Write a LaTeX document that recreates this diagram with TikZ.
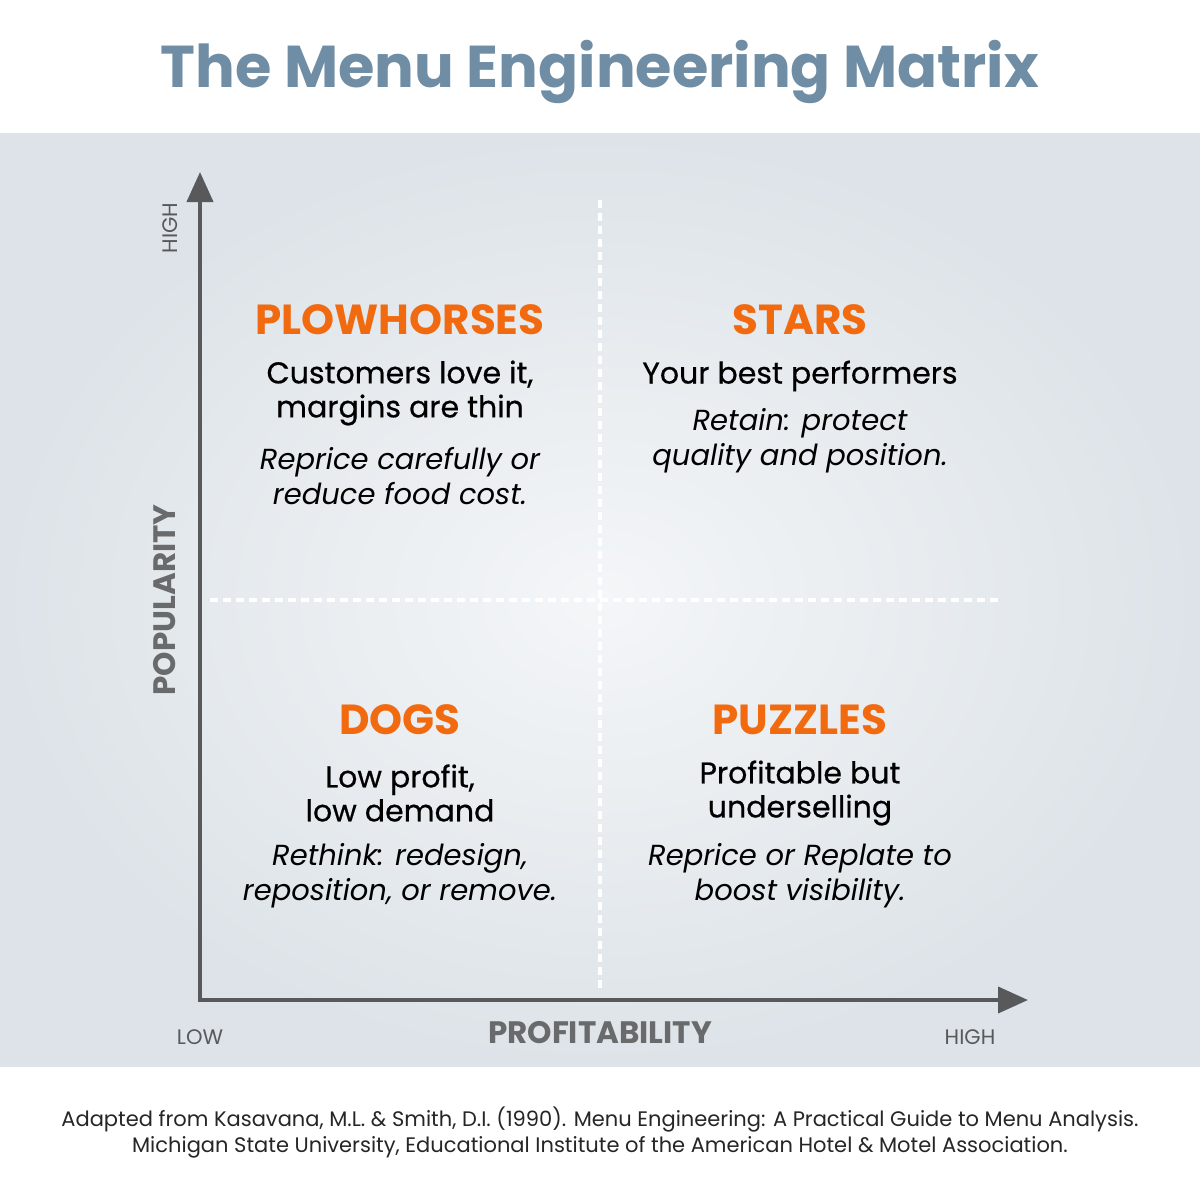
\documentclass[tikz,border=0pt]{standalone}
\usepackage{fontspec}
\setmainfont{Poppins}
\newfontfamily\medfont[FakeBold=0.6]{Poppins}
\usetikzlibrary{arrows.meta}
\definecolor{titlec}{HTML}{6F8DA4}
\definecolor{orng}{HTML}{F26A10}
\definecolor{axisc}{HTML}{58595B}
\definecolor{panel}{HTML}{DDE3E8}
\definecolor{panelc}{HTML}{F4F6F8}
\tikzset{
 qtitle/.style={font=\fontsize{42}{44}\selectfont\bfseries, text=orng},
 qbody/.style={font=\medfont\fontsize{30}{34}\selectfont, text=black, align=center},
 qital/.style={font=\fontsize{29}{35}\selectfont\itshape, text=black, align=center},
 axlab/.style={font=\fontsize{21}{22}\selectfont, text=axisc},
 axbig/.style={font=\fontsize{31}{32}\selectfont\bfseries, text=axisc!90},
 divline/.style={white, line width=3.5pt, dash pattern=on 8pt off 5pt},
 foot/.style={font=\fontsize{21}{26}\selectfont, text=black!85, align=center}
}
\begin{document}
\begin{tikzpicture}[x=1pt,y=-1pt]
\useasboundingbox (0,0) rectangle (1200,1200);
\fill[white] (0,0) rectangle (1200,1200);
\shade[inner color=panelc, outer color=panel] (0,133) rectangle (1200,1066);
\node[font=\fontsize{59}{61}\selectfont\bfseries, text=titlec] (title) at (600,72) {The Menu Engineering Matrix};
\draw[divline] (600,200) -- (600,992);
\draw[divline] (210,600) -- (1000,600);
\coordinate (orig) at (200,1000);
\coordinate (ytop) at (200,172);
\coordinate (xend) at (1028,1000);
\draw[axisc, line width=4pt, -{Triangle[length=30pt,width=26pt]}] (orig) -- (ytop);
\draw[axisc, line width=4pt, -{Triangle[length=30pt,width=26pt]}] ([xshift=-2pt]orig) -- (xend);
\node[axlab, rotate=90] (yhigh) at (170,228) {HIGH};
\node[axbig, rotate=90] (ylab) at (165,600) {POPULARITY};
\node[axlab] (xlow) at (200,1037) {LOW};
\node[axbig] (xlab) at (600,1033) {PROFITABILITY};
\node[axlab] (xhigh) at (970,1037) {HIGH};
% quadrants
\node[qtitle] (plt) at (400,320) {PLOWHORSES};
\node[qbody] (plb) at (400,393) {Customers love it,\\margins are thin};
\node[qital] (pli) at (400,476) {Reprice carefully or\\reduce food cost.};
\node[qtitle] (stt) at (800,320) {STARS};
\node[qbody] (stb) at (800,376) {Your best performers};
\node[qital] (sti) at (800,441) {Retain: protect\\quality and position.};
\node[qtitle] (dgt) at (400,720) {DOGS};
\node[qbody] (dgb) at (400,793) {Low profit,\\low demand};
\node[qital] (dgi) at (400,876) {Rethink: redesign,\\reposition, or remove.};
\node[qtitle] (pzt) at (800,720) {PUZZLES};
\node[qbody] (pzb) at (800,793) {Profitable but\\underselling};
\node[qital] (pzi) at (800,876) {Reprice or Replate to\\boost visibility.};
\node[foot] (ft) at (600,1133) {Adapted from Kasavana, M.L. \& Smith, D.I. (1990). Menu Engineering: A Practical Guide to Menu Analysis.\\Michigan State University, Educational Institute of the American Hotel \& Motel Association.};
\end{tikzpicture}
\end{document}
